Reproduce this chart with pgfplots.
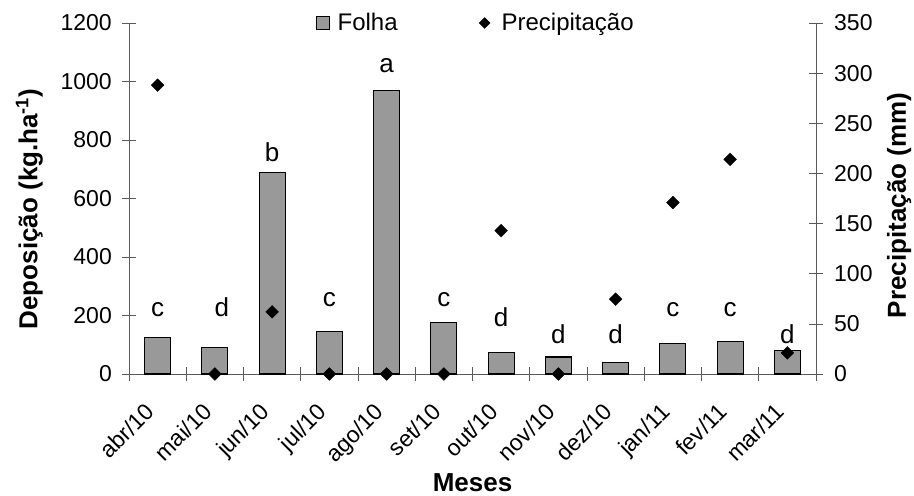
\documentclass[border=0pt]{standalone}
\usepackage{pgfplots}
\pgfplotsset{compat=1.18}
\usepackage{pgfplotstable}
\usepackage{fontspec}
\setmainfont{Liberation Sans}
\definecolor{barfill}{RGB}{153,153,153}
\definecolor{axgray}{RGB}{90,90,90}

\pgfplotstableread{
x y
0 125
1 91
2 690
3 145
4 968
5 177
6 73
7 58
8 40
9 105
10 112
11 79
}\folha

\pgfplotstableread{
x y
0 288
1 0
2 62
3 0
4 0
5 0
6 143
7 0
8 74.6
9 171
10 214
11 21
}\precip

\pgfplotstableread{
x y lab
0 195 c
1.12 195 d
2 728 b
3 231 c
4 1031 a
5 231 c
6 163 d
7 106 d
8 106 d
9 197 c
10 197 c
11 106 d
}\letras

\newcommand{\tl}{\fontsize{23}{27}\selectfont}
\newcommand{\lb}{\fontsize{26}{30}\selectfont\bfseries}

\begin{document}
\begin{tikzpicture}
\begin{axis}[name=L,
  scale only axis, width=687pt, height=351pt,
  xmin=-0.5, xmax=11.5, ymin=0, ymax=1200,
  axis x line=bottom, axis y line=left,
  axis line style={-, draw=axgray},
  tick align=center, major tick length=14pt, minor tick length=14pt,
  tick style={axgray, line width=0.6pt},
  xtick={0,...,11},
  xticklabels={abr/10,mai/10,jun/10,jul/10,ago/10,set/10,out/10,nov/10,dez/10,jan/11,fev/11,mar/11},
  major x tick style={draw=none},
  minor xtick={-0.5,0.5,...,11.5},
  ytick={0,200,...,1200},
  /pgf/number format/assume math mode=true,
  /pgf/number format/1000 sep={},
  ticklabel style={font=\tl},
  xticklabel style={rotate=45, anchor=north east, inner sep=0pt, xshift=-24pt, yshift=-5pt},
  yticklabel style={inner sep=0pt, xshift=-10pt},
  xlabel={Meses}, ylabel={Deposição (kg.ha\textsuperscript{-1})},
  label style={font=\lb},
  xlabel style={at={(axis description cs:0.5,-0.31)}, anchor=center},
  ylabel style={at={(axis description cs:-0.145,0.47)}, anchor=center},
  clip=false,
]
\addplot[ybar, bar width=26pt, fill=barfill, draw=black, line width=1.1pt] table[x=x,y=y] {\folha};
\addplot[only marks, mark=none, nodes near coords, point meta=explicit symbolic,
  every node near coord/.append style={font=\fontsize{26}{30}\selectfont, inner sep=0pt, anchor=base}]
  table[x=x, y=y, meta=lab] {\letras};
\end{axis}
\begin{axis}[name=R,
  scale only axis, width=687pt, height=351pt,
  xmin=-0.5, xmax=11.5, ymin=0, ymax=350,
  axis x line=none, axis y line=right,
  axis line style={-, draw=axgray},
  tick align=center, major tick length=14pt,
  tick style={axgray, line width=0.6pt},
  ytick={0,50,...,350},
  /pgf/number format/assume math mode=true,
  ticklabel style={font=\tl},
  yticklabel style={inner sep=0pt, xshift=11pt},
  ylabel={Precipitação (mm)},
  label style={font=\lb},
  ylabel style={at={(axis description cs:1.121,0.48)}, anchor=center},
  legend style={draw=none, fill=none, at={(0.505,1.0)}, anchor=center,
    font=\fontsize{24}{28}\selectfont,
    legend columns=2, /tikz/every even column/.append style={column sep=78pt},
    legend cell align=left},
  clip=false,
]
\addlegendimage{legend image code/.code={\draw[fill=barfill, draw=black, line width=0.8pt] (0pt,-6.5pt) rectangle (13pt,6.5pt); \path[draw=none] (0pt,0pt) -- (19pt,0pt);}}
\addlegendentry{Folha}
\addplot[only marks, mark=square*, mark options={rotate=45, fill=black, draw=black}, mark size=4.5pt,
  legend image code/.code={\path[draw=none, mark=square*, mark options={rotate=45, fill=black, draw=black}, mark size=3.8pt] plot coordinates {(7pt,0pt)}; \path[draw=none] (0pt,0pt) -- (22pt,0pt);}]
  table[x=x,y=y] {\precip};
\addlegendentry{Precipitação}
\end{axis}
\pgfresetboundingbox
\path[use as bounding box] ([shift={(-129pt,-121.7pt)}]L.south west) rectangle ([shift={(98pt,23pt)}]L.north east);
\end{tikzpicture}
\end{document}
